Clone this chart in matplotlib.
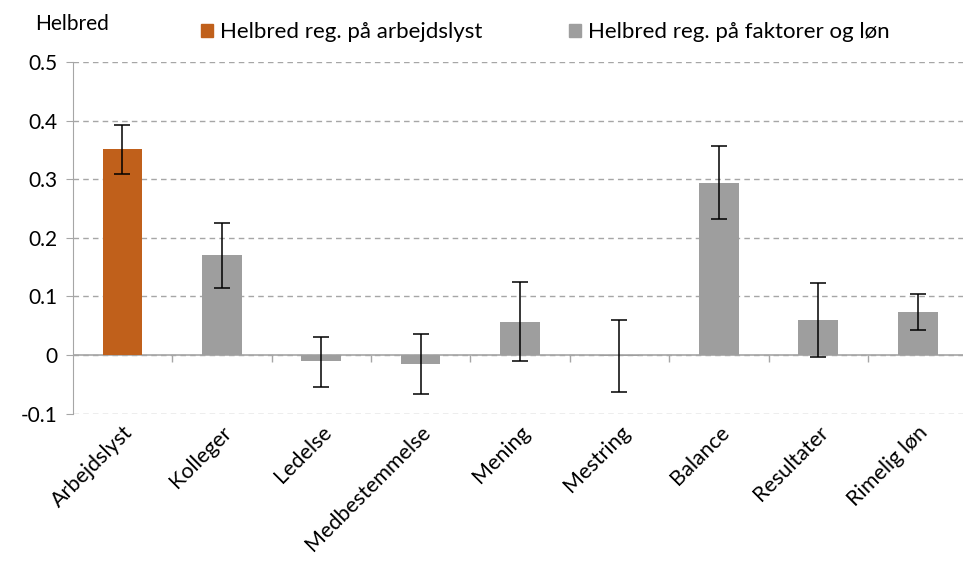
import numpy as np
import matplotlib.pyplot as plt
from matplotlib.patches import Patch

plt.rcParams['font.family'] = ['Lato', 'DejaVu Sans']

categories = ['Arbejdslyst', 'Kolleger', 'Ledelse', 'Medbestemmelse', 'Mening',
              'Mestring', 'Balance', 'Resultater', 'Rimelig løn']
values = [0.351, 0.170, -0.011, -0.015, 0.057, -0.001, 0.294, 0.059, 0.073]
err_low = [0.309, 0.114, -0.055, -0.067, -0.011, -0.063, 0.232, -0.003, 0.042]
err_high = [0.393, 0.225, 0.031, 0.036, 0.125, 0.059, 0.357, 0.123, 0.105]

orange = '#C0601B'
gray = '#9E9E9E'
colors = [orange] + [gray] * (len(categories) - 1)

x = np.arange(len(categories))
vals = np.array(values)
yerr = [vals - np.array(err_low), np.array(err_high) - vals]

fig = plt.figure(figsize=(9.63, 5.65), dpi=100)
ax = fig.add_axes([0.0755, 0.268, 0.929, 0.622])

ax.bar(x, vals, width=0.4, color=colors, zorder=3)
ax.errorbar(x, vals, yerr=yerr, fmt='none', ecolor='black', elinewidth=1.1,
            capsize=6, capthick=1.1, zorder=4)

ax.set_xlim(-0.5, len(categories) - 0.5)
ax.set_ylim(-0.1, 0.5)
ax.set_yticks([-0.1, 0, 0.1, 0.2, 0.3, 0.4, 0.5])
ax.set_yticklabels(['-0.1', '0', '0.1', '0.2', '0.3', '0.4', '0.5'], fontsize=15)
ax.yaxis.grid(True, linestyle=(0, (4, 3)), color='#A6A6A6', linewidth=1, zorder=0)
ax.tick_params(axis='y', length=5, color='#A6A6A6', pad=6)

ax.set_xticks(x)
ax.set_xticklabels(categories, rotation=45, ha='right', rotation_mode='anchor', fontsize=15.5)
ax.tick_params(axis='x', which='major', length=0, pad=6)
ax.vlines(np.arange(0.5, len(categories) - 0.5, 1), -0.012, 0, color='#A6A6A6', lw=1, zorder=2)

ax.axhline(0, color='#A6A6A6', lw=1.2, zorder=2)
for s in ['top', 'right', 'bottom']:
    ax.spines[s].set_visible(False)
ax.spines['left'].set_color('#A6A6A6')

fig.text(0.036, 0.958, 'Helbred', fontsize=15, va='center')
handles = [Patch(color=orange, label='Helbred reg. på arbejdslyst'),
           Patch(color=gray, label='Helbred reg. på faktorer og løn')]
fig.legend(handles=handles, loc='center', bbox_to_anchor=(0.566, 0.943), ncol=2,
           frameon=False, fontsize=16, handlelength=0.55, handleheight=0.55,
           handletextpad=0.3, columnspacing=3.9)

fig.savefig('out.png', dpi=100)
